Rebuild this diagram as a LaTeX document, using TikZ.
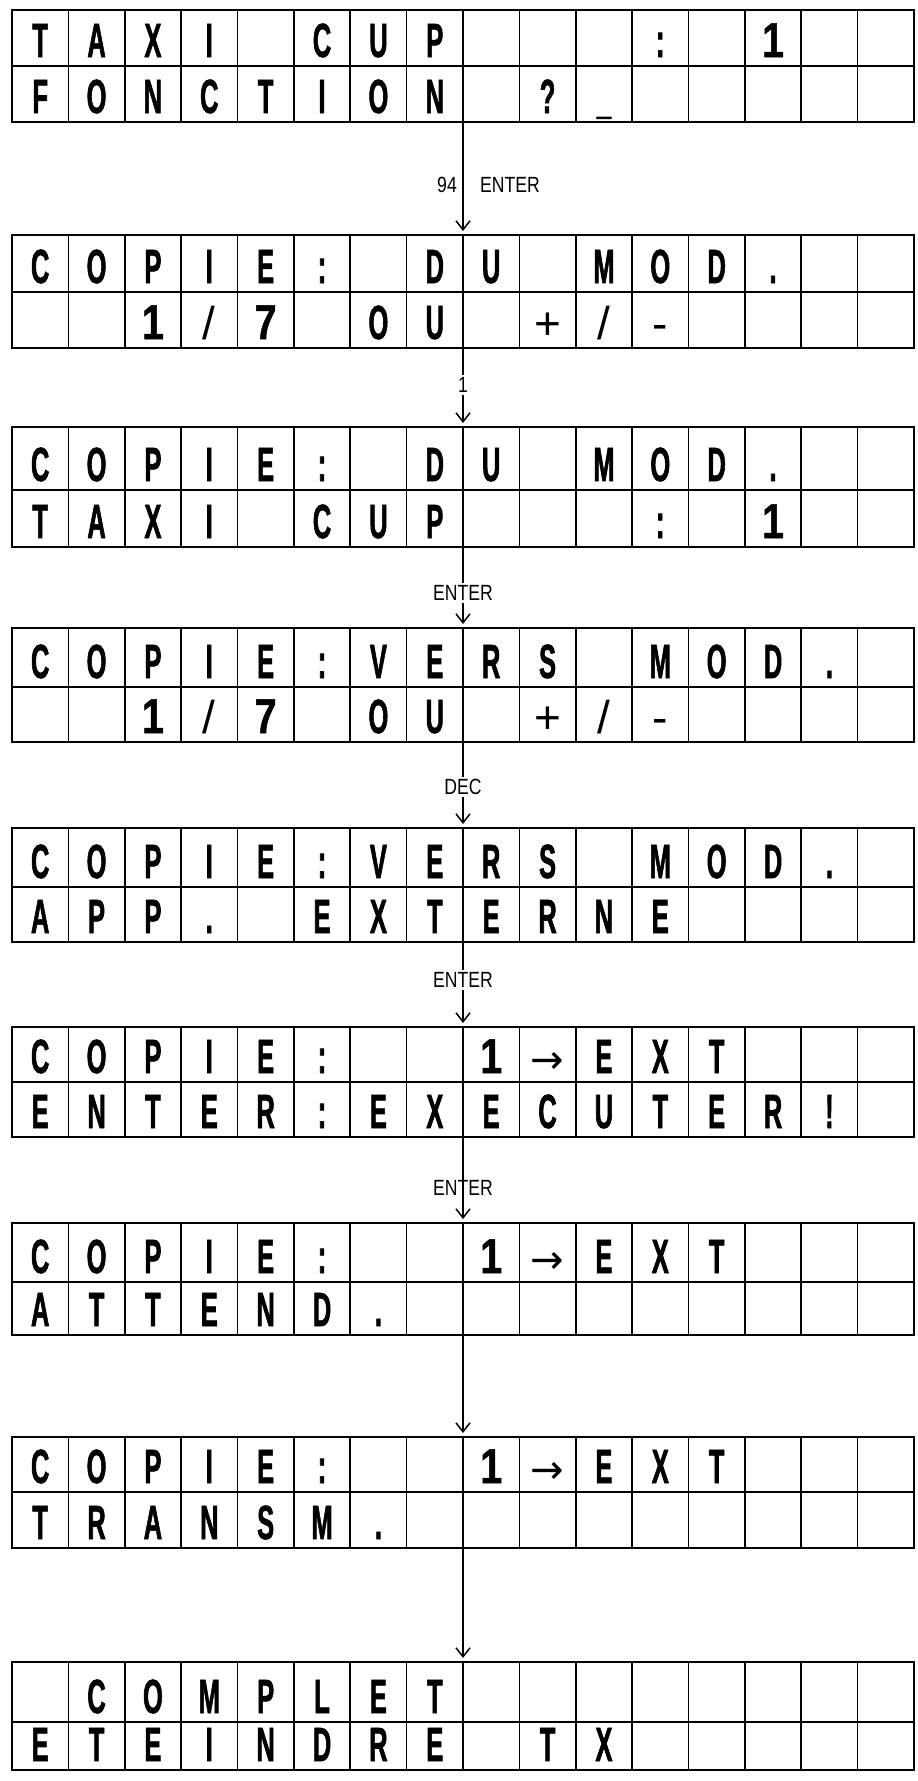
\documentclass[tikz,border=0pt]{standalone}
\usepackage{fontspec}
\setmainfont{Liberation Sans}
\newfontfamily\lcdfont[FakeStretch=0.53,UprightFont={* Bold},FakeBold=1.2]{Liberation Sans}
\newfontfamily\digfont[FakeStretch=0.8,UprightFont={* Bold},FakeBold=1]{Liberation Sans}
\newfontfamily\symfont{DejaVu Sans}
\newfontfamily\keyfont[FakeStretch=0.8]{Liberation Sans}
\usetikzlibrary{arrows.meta}
\newcommand\dg[1]{{\digfont\fontsize{49}{49}\selectfont #1}}
\newcommand\thn[1]{{\rmfamily\mdseries\fontsize{46}{46}\selectfont #1}}
\newcommand\arr{{\symfont\mdseries\fontsize{40}{40}\selectfont →}}
\tikzset{
  lcdframe/.style={draw, line width=2.2pt, inner sep=0pt, outer sep=0pt, minimum width=902pt},
  cellline/.style={line width=1.7pt},
  lcdchar/.style={anchor=base, inner sep=0pt, font=\lcdfont\fontsize{48}{48}\selectfont},
  flow/.style={line width=1.5pt, -{Straight Barb[length=9pt,width=14pt,line width=1.5pt]}},
  keylabel/.style={font=\keyfont\fontsize{22}{22}\selectfont, inner sep=2pt},
}
\newcommand\lcd[6]{%
  \pgfmathsetmacro\lcdh{#4-#2}%
  \pgfmathsetmacro\lcdc{(#2+#4)/2}%
  \node[lcdframe, minimum height=\lcdh pt] (#1) at (463,\lcdc) {};
  \draw[cellline] (12,#3) -- (914,#3);
  \foreach \k in {1,...,15}{\draw[cellline] ({12+\k*56.375},#2) -- ({12+\k*56.375},#4);}
  \foreach \c [count=\i] in {#5}{\node[lcdchar] (#1a\i) at ({12+(\i-0.5)*56.375},{#3-9}) {\c};}
  \foreach \c [count=\i] in {#6}{\node[lcdchar] (#1b\i) at ({12+(\i-0.5)*56.375},{#4-9}) {\c};}
}
\begin{document}
\begin{tikzpicture}[x=1pt,y=-1pt]
\useasboundingbox (0,0) rectangle (918,1781);
\lcd{d1}{10}{66}{122}
 {T,A,X,I,{},C,U,P,{},{},{},:,{},\dg{1},{},{}}
 {F,O,N,C,T,I,O,N,{},?,\_,{},{},{},{},{}}
\lcd{d2}{235}{292}{348}
 {C,O,P,I,E,:,{},D,U,{},M,O,D,.,{},{}}
 {{},{},\dg{1},\thn{/},\dg{7},{},O,U,{},\thn{+},\thn{/},\thn{-},{},{},{},{}}
\lcd{d3}{427}{490}{547}
 {C,O,P,I,E,:,{},D,U,{},M,O,D,.,{},{}}
 {T,A,X,I,{},C,U,P,{},{},{},:,{},\dg{1},{},{}}
\lcd{d4}{628}{687}{742}
 {C,O,P,I,E,:,V,E,R,S,{},M,O,D,.,{}}
 {{},{},\dg{1},\thn{/},\dg{7},{},O,U,{},\thn{+},\thn{/},\thn{-},{},{},{},{}}
\lcd{d5}{828}{887}{942}
 {C,O,P,I,E,:,V,E,R,S,{},M,O,D,.,{}}
 {A,P,P,.,{},E,X,T,E,R,N,E,{},{},{},{}}
\lcd{d6}{1027}{1082}{1137}
 {C,O,P,I,E,:,{},{},\dg{1},\arr,E,X,T,{},{},{}}
 {E,N,T,E,R,:,E,X,E,C,U,T,E,R,!,{}}
\lcd{d7}{1223}{1282}{1335}
 {C,O,P,I,E,:,{},{},\dg{1},\arr,E,X,T,{},{},{}}
 {A,T,T,E,N,D,.,{},{},{},{},{},{},{},{},{}}
\lcd{d8}{1437}{1492}{1548}
 {C,O,P,I,E,:,{},{},\dg{1},\arr,E,X,T,{},{},{}}
 {T,R,A,N,S,M,.,{},{},{},{},{},{},{},{},{}}
\lcd{d9}{1662}{1722}{1770}
 {{},C,O,M,P,L,E,T,{},{},{},{},{},{},{},{}}
 {E,T,E,I,N,D,R,E,{},T,X,{},{},{},{},{}}
% connectors
\draw[flow] (d1.south) -- ([yshift=4pt]d2.north);
\node[keylabel, anchor=east] (k1a) at (459,185) {94};
\node[keylabel, anchor=west] (k1b) at (478,185) {ENTER};
\draw[flow] (d2.south) -- ([yshift=4pt]d3.north);
\node[keylabel, fill=white] (k2) at (463,385) {1};
\draw[flow] (d3.south) -- ([yshift=4pt]d4.north);
\node[keylabel, fill=white] (k3) at (463,593) {ENTER};
\draw[flow] (d4.south) -- ([yshift=4pt]d5.north);
\node[keylabel, fill=white] (k4) at (463,787) {DEC};
\draw[flow] (d5.south) -- ([yshift=4pt]d6.north);
\node[keylabel, fill=white] (k5) at (463,980) {ENTER};
\draw[flow] (d6.south) -- ([yshift=4pt]d7.north);
\node[keylabel] (k6) at (463,1188) {ENTER};
\draw[flow] (d7.south) -- ([yshift=4pt]d8.north);
\draw[flow] (d8.south) -- ([yshift=4pt]d9.north);
\end{tikzpicture}
\end{document}
